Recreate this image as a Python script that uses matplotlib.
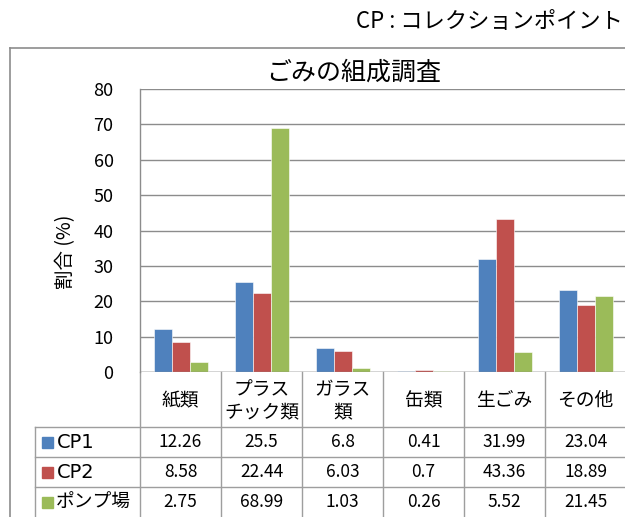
import matplotlib
matplotlib.use("Agg")
import matplotlib.pyplot as plt
from matplotlib.transforms import blended_transform_factory
import numpy as np

plt.rcParams['font.family'] = ['Noto Sans CJK JP', 'DejaVu Sans']

categories = ["紙類", "プラス\nチック類", "ガラス\n類", "缶類", "生ごみ", "その他"]
series_names = ["CP1", "CP2", "ポンプ場"]
cp1 = [12.26, 25.5, 6.8, 0.41, 31.99, 23.04]
cp2 = [8.58, 22.44, 6.03, 0.7, 43.36, 18.89]
pump = [2.75, 68.99, 1.03, 0.26, 5.52, 21.45]
value_labels = [
    ["12.26", "25.5", "6.8", "0.41", "31.99", "23.04"],
    ["8.58", "22.44", "6.03", "0.7", "43.36", "18.89"],
    ["2.75", "68.99", "1.03", "0.26", "5.52", "21.45"],
]
yticks = [0, 10, 20, 30, 40, 50, 60, 70, 80]
colors = ["#4F81BD", "#C0504D", "#9BBB59"]
title = "ごみの組成調査"
ylabel = "割合 (%)"
note = "CP : コレクションポイント"

W, H = 625, 517
fig = plt.figure(figsize=(W / 100, H / 100), dpi=100)
fig.patch.set_facecolor("white")

# overlay in pixel coordinates
ov = fig.add_axes([0, 0, 1, 1])
ov.set_xlim(0, W)
ov.set_ylim(H, 0)
ov.axis("off")
ov.patch.set_visible(False)

grid_c = "#8C8C8C"
tab_c = "#9E9E9E"

# main plot axes
x0, x1 = 140, 626
ytop, ybot = 89, 372
ax = fig.add_axes([x0 / W, 1 - ybot / H, (x1 - x0) / W, (ybot - ytop) / H])
ax.set_xlim(-0.5, len(categories) - 0.5)
ax.set_ylim(0, 80)
ax.set_yticks(yticks)
ax.set_xticks([])
ax.yaxis.grid(True, color=grid_c, linewidth=1.0)
ax.set_axisbelow(True)
for s in ["top", "right", "bottom"]:
    ax.spines[s].set_visible(False)
ax.spines["left"].set_color(grid_c)
ax.spines["left"].set_linewidth(1.0)
ax.tick_params(axis="y", length=0, pad=19, labelsize=13, labelcolor="#000000")
ax.patch.set_visible(False)

n = len(categories)
xs = np.arange(n)
bw = 1 / 4.5
for k, (vals, c) in enumerate(zip([cp1, cp2, pump], colors)):
    ax.bar(xs + (k - 1) * bw, vals, width=bw, color=c, edgecolor="white",
           linewidth=0.4, zorder=3)

ov.text(66, 252, ylabel, ha="center", va="center", rotation=90, fontsize=14)

# title and note
ov.text(354, 73, title, ha="center", va="center", fontsize=18)
ov.text(623, 22, note, ha="right", va="center", fontsize=16)

# outer chart border
ov.plot([10, 10], [47.5, H + 2], color=grid_c, lw=1.2)
ov.plot([10, W + 2], [47.5, 47.5], color=grid_c, lw=1.2)

# data table
bt = blended_transform_factory(ax.transData, ov.transData)
y_head_bot = 427
row_bounds = [427, 457, 487, 517]
ax.axhline(0, color=grid_c, lw=1.0, zorder=4)
for i in range(n + 1):
    ov.plot([i - 0.5, i - 0.5], [ybot, H + 2], color=tab_c, lw=1.0, transform=bt)
for yb in row_bounds[:-1]:
    ov.plot([35, W + 2], [yb, yb], color=tab_c, lw=1.0)
ov.plot([35, 35], [y_head_bot, H + 2], color=tab_c, lw=1.0)

for i, cat in enumerate(categories):
    ov.text(i, (ybot + y_head_bot) / 2 + 1, cat, ha="center", va="center",
            fontsize=13.5, linespacing=1.1, transform=bt)

for r in range(3):
    yc = (row_bounds[r] + row_bounds[r + 1]) / 2
    for i in range(n):
        ov.text(i, yc, value_labels[r][i], ha="center", va="center",
                fontsize=12.5, transform=bt)
    ov.add_patch(plt.Rectangle((42, yc - 5.5), 11, 11, color=colors[r]))
    name = series_names[r]
    if name.startswith("CP"):
        ov.text(57, yc, name, ha="left", va="center", fontsize=14,
                family=["DejaVu Sans"])
    else:
        ov.text(56, yc, name, ha="left", va="center", fontsize=13.5)

fig.savefig("out.png", dpi=100, facecolor="white")
